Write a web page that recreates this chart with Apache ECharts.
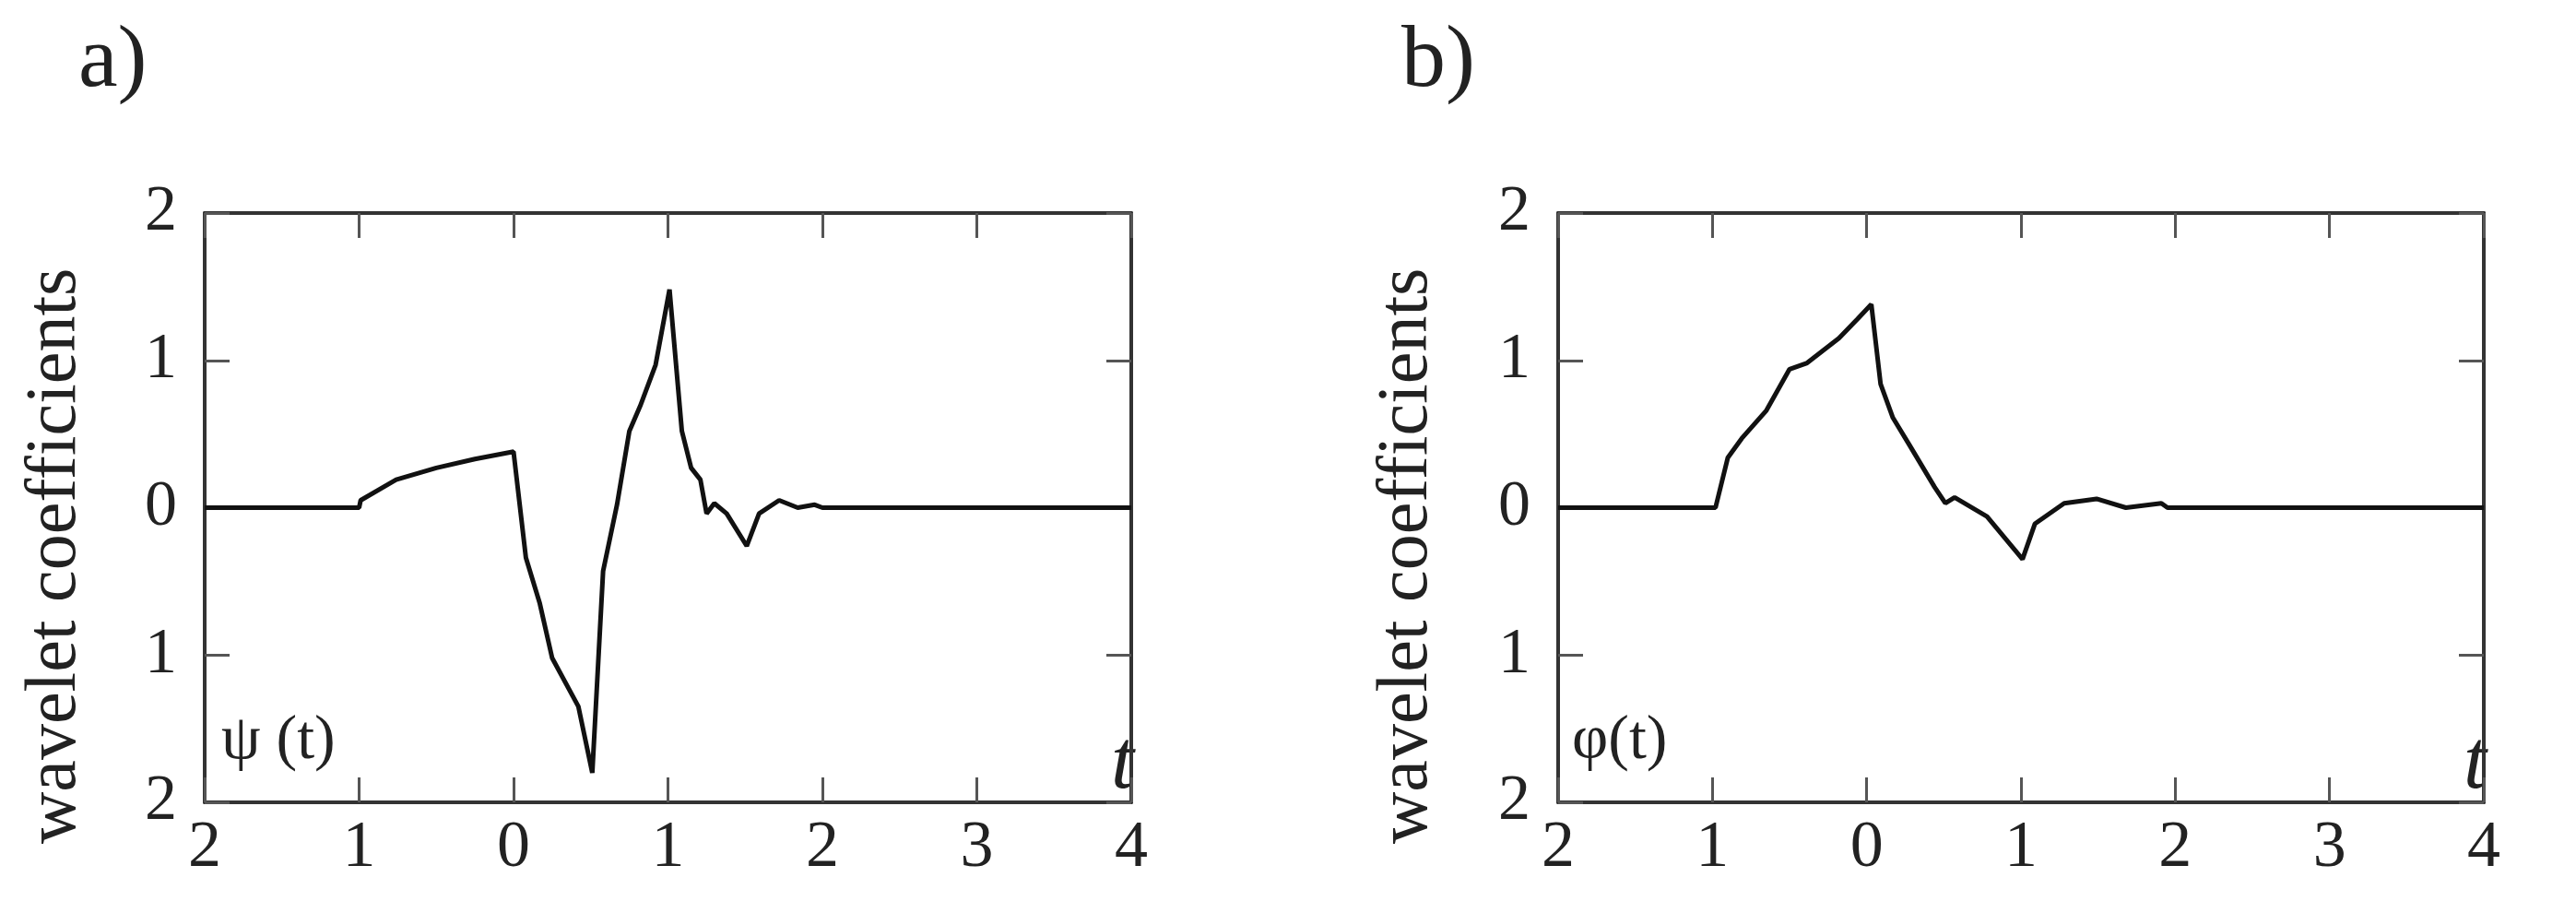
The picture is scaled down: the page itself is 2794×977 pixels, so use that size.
<!DOCTYPE html>
<html><head><meta charset="utf-8">
<script src="https://cdn.jsdelivr.net/npm/echarts@6/dist/echarts.min.js"></script>
<style>html,body{margin:0;padding:0;background:#fff}#c{width:2794px;height:977px}</style>
</head><body><div id="c"></div>
<script>
const psiT = [-2,-1,-0.99,-0.76,-0.5,-0.25,0,0.08,0.17,0.25,0.42,0.51,0.58,0.67,0.75,0.82,0.92,1.01,1.09,1.15,1.21,1.25,1.3,1.38,1.51,1.59,1.72,1.84,1.95,2,4];
const psiV = [0,0,0.05,0.19,0.27,0.33,0.38,-0.34,-0.65,-1.02,-1.35,-1.8,-0.43,0.02,0.52,0.69,0.97,1.48,0.52,0.27,0.19,-0.04,0.03,-0.04,-0.26,-0.04,0.05,0,0.02,0,0];
const phiT = [-2,-0.98,-0.9,-0.81,-0.65,-0.5,-0.39,-0.18,-0.06,0.03,0.09,0.17,0.28,0.44,0.51,0.57,0.78,1.01,1.09,1.28,1.49,1.68,1.91,1.95,4];
const phiV = [0,0,0.34,0.47,0.66,0.94,0.98,1.15,1.28,1.38,0.84,0.61,0.42,0.14,0.03,0.07,-0.06,-0.35,-0.11,0.03,0.06,0,0.03,0,0];
const xTicks = [-2,-1,0,1,2,3,4];
const yTicks = [-2,-1,0,1,2];
const panelLabels = ['a)','b)'];
const curveLabels = ['ψ (t)','φ(t)'];
const yTitle = 'wavelet coefficients';

const font = '"Liberation Serif", "DejaVu Serif", serif';
const grids = [{left:222,width:1005,top:231,height:639},{left:1690,width:1004,top:231,height:639}];
const xAxis=[], yAxis=[], series=[];
const line = {show:true,onZero:false,lineStyle:{color:'#333',width:4}};
const tick = {show:true,inside:true,length:27,lineStyle:{color:'#555',width:3}};
[[psiT,psiV],[phiT,phiV]].forEach((d,i)=>{
  const base = {min:xTicks[0],max:xTicks[xTicks.length-1],interval:1,gridIndex:i,type:'value',splitLine:{show:false},axisLine:line,axisTick:tick};
  xAxis.push(Object.assign({},base,{position:'bottom',
    axisLabel:{fontFamily:font,fontSize:72,color:'#222',margin:14,formatter:v=>String(Math.abs(v))}}));
  xAxis.push(Object.assign({},base,{position:'top',axisLabel:{show:false}}));
  const yb = {min:yTicks[0],max:yTicks[yTicks.length-1],interval:1,gridIndex:i,type:'value',splitLine:{show:false},axisLine:line,axisTick:tick};
  yAxis.push(Object.assign({},yb,{position:'left',
    axisLabel:{fontFamily:font,fontSize:70,color:'#222',margin:30,formatter:v=>String(Math.abs(v))}}));
  yAxis.push(Object.assign({},yb,{position:'right',axisLabel:{show:false}}));
  series.push({type:'line',xAxisIndex:2*i,yAxisIndex:2*i,showSymbol:false,animation:false,
    lineStyle:{color:'#111',width:5},data:d[0].map((t,k)=>[t,d[1][k]])});
});
const tx = (text,x,y,f)=>({type:'text',x,y,style:{text,font:f,fill:'#222'}});
const graphic = [
  tx(panelLabels[0],85,20,'96px '+font), tx(panelLabels[1],1520,20,'96px '+font),
  tx(curveLabels[0],240,770,'68px '+font), tx(curveLabels[1],1705,770,'68px '+font),
  tx('t',1205,785,'italic 90px '+font), tx('t',2672,785,'italic 90px '+font),
  {type:'text',x:22,y:915,rotation:Math.PI/2,style:{text:yTitle,font:'78px '+font,fill:'#222'}},
  {type:'text',x:1488,y:915,rotation:Math.PI/2,style:{text:yTitle,font:'78px '+font,fill:'#222'}}
];
const chart = echarts.init(document.getElementById('c'));
chart.setOption({animation:false,grid:grids,xAxis,yAxis,series,graphic});
</script></body></html>
